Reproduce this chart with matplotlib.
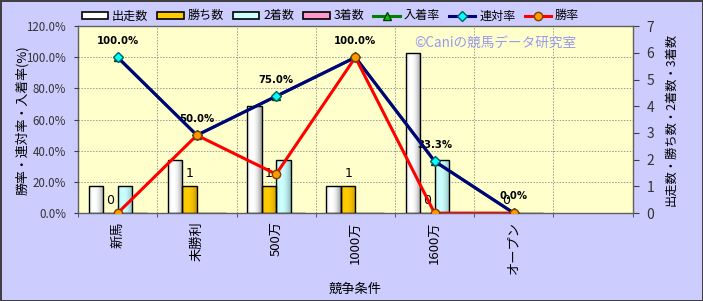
import numpy as np
import matplotlib
matplotlib.use('Agg')
import matplotlib.pyplot as plt
from matplotlib.ticker import FixedLocator, FuncFormatter

plt.rcParams['font.family'] = ['Noto Sans CJK JP', 'DejaVu Sans']

categories = ['新馬', '未勝利', '500万', '1000万', '1600万', 'オープン']
runs = [1, 2, 4, 1, 6, 0]
wins = [0, 1, 1, 1, 0, 0]
seconds = [1, 0, 2, 0, 2, 0]
thirds = [0, 0, 0, 0, 0, 0]
place_rate = [100.0, 50.0, 75.0, 100.0, 33.3, 0.0]
top2_rate = [100.0, 50.0, 75.0, 100.0, 33.3, 0.0]
win_rate = [0.0, 50.0, 25.0, 100.0, 0.0, 0.0]

n_slots = 7  # chart leaves one empty category slot on the right
BG = '#CCCCFF'
PLOT_BG = '#FFFFCC'
TXT = '#333333'


def shade_bars(ax, bars, light, dark):
    # cylinder-like horizontal gradient, clipped to each bar
    t = np.linspace(0, 1, 40)
    g = np.clip(1 - ((t - 0.35) / 0.65) ** 2, 0, 1)
    lo = np.array(matplotlib.colors.to_rgb(dark))
    hi = np.array(matplotlib.colors.to_rgb(light))
    img = (lo[None, :] + (hi - lo)[None, :] * g[:, None])[None, :, :]
    for b in bars:
        if b.get_height() <= 0:
            continue
        x, y = b.get_x(), b.get_y()
        im = ax.imshow(img, extent=[x, x + b.get_width(), y, y + b.get_height()],
                       aspect='auto', zorder=2, interpolation='bilinear')
        im.set_clip_path(b)


fig = plt.figure(figsize=(7.03, 3.01), dpi=100, facecolor=BG)
fig.patch.set_edgecolor('#404040')
fig.patch.set_linewidth(2)

ax2 = fig.add_axes([0.111, 0.292, 0.789, 0.621])  # counts (bars), right scale
ax = ax2.twinx()                                    # rates (lines), left scale
ax.set_zorder(ax2.get_zorder() + 1)
ax.patch.set_visible(False)
ax2.set_facecolor(PLOT_BG)

x = np.arange(len(categories))
w = 0.183
series = [
    (runs, '出走数', '#FFFFFF', '#999999'),
    (wins, '勝ち数', '#FFCC00', '#C89600'),
    (seconds, '2着数', '#CCFFFF', '#88B8B8'),
    (thirds, '3着数', '#FF99CC', '#C06090'),
]
handles = []
for i, (vals, name, light, dark) in enumerate(series):
    bars = ax2.bar(x + (i - 1.5) * w, vals, w, facecolor='none',
                   edgecolor='black', linewidth=1, zorder=3)
    shade_bars(ax2, bars, light, dark)
    handles.append(matplotlib.patches.Patch(facecolor=light, edgecolor='black',
                                            linewidth=1.2, label=name))

# count labels above the 勝ち数 bars
for xi, v in zip(x, wins):
    ax2.annotate(str(v), (xi - 0.5 * w, v), xytext=(0, 9), textcoords='offset points',
                 ha='center', va='center', fontsize=9, color='black',
                 family=['DejaVu Sans'])

ax2.set_xlim(-0.5, n_slots - 0.5)
ax2.set_ylim(0, 7)
ax2.yaxis.tick_right()
ax2.set_yticks(range(0, 8))
ax2.yaxis.set_minor_locator(FixedLocator(np.linspace(0, 7, 7)))
ax2.grid(axis='y', which='minor', color='#999999', linestyle=(0, (1.5, 1.5)), linewidth=0.7)
ax2.set_xticks(x)
ax2.set_xticklabels(categories, rotation=90, fontsize=9.5, color='black')
ax2.xaxis.set_minor_locator(FixedLocator(np.arange(n_slots + 1) - 0.5))
ax2.grid(axis='x', which='minor', color='#999999', linestyle=(0, (1.5, 1.5)), linewidth=0.7)
ax2.tick_params(axis='x', which='major', length=0, pad=6)
ax2.tick_params(axis='x', which='minor', length=3, color='#404040')
ax2.tick_params(axis='y', which='major', length=4, color='#404040', labelsize=10,
                labelcolor=TXT, pad=6)
ax2.tick_params(axis='y', which='minor', length=0)
ax2.set_axisbelow(True)
ax2.set_xlabel('競争条件', fontsize=9.5, labelpad=6)
ax2.set_ylabel('出走数・勝ち数・2着数・3着数', fontsize=8.8, rotation=90)
ax2.yaxis.set_label_coords(1.081, 0.5)
for s in ax2.spines.values():
    s.set_color('#606060')
    s.set_linewidth(1)

# rate lines on the left scale
l1, = ax.plot(x, place_rate, color='#008000', linewidth=2.2, marker='^',
              markersize=6, markerfacecolor='#00CC00', markeredgecolor='#004000',
              label='入着率', zorder=4)
l2, = ax.plot(x, top2_rate, color='#000080', linewidth=2.2, marker='D',
              markersize=5, markerfacecolor='#00FFFF', markeredgecolor='#006060',
              label='連対率', zorder=5)
l3, = ax.plot(x, win_rate, color='#FF0000', linewidth=2.2, marker='o',
              markersize=6, markerfacecolor='#FF9900', markeredgecolor='#804000',
              label='勝率', zorder=6)
for xi, v in zip(x, top2_rate):
    ax.annotate(f'{v:.1f}%', (xi, v), xytext=(0, 12), textcoords='offset points',
                ha='center', va='center', fontsize=7.3, fontweight='bold',
                family=['DejaVu Sans'], color='black')

ax.set_ylim(0, 120)
ax.yaxis.tick_left()
ax.set_yticks(np.arange(0, 121, 20))
ax.yaxis.set_major_formatter(FuncFormatter(lambda v, p: f'{v:.1f}%'))
ax.tick_params(axis='y', length=3, color='#404040', labelsize=8.3, labelcolor=TXT, pad=5.5)
ax.set_ylabel('勝率・連対率・入着率(%)', fontsize=9.3)
ax.yaxis.set_label_coords(-0.113, 0.5)
for s in ax.spines.values():
    s.set_visible(False)

ax.text(0.607, 0.909, '©Caniの競馬データ研究室', transform=ax.transAxes,
        fontsize=9.8, color='#9999F0', ha='left', va='center', zorder=1)

fig.legend(handles + [l1, l2, l3], [h.get_label() for h in handles] + ['入着率', '連対率', '勝率'],
           loc='center left', bbox_to_anchor=(0.116, 0.947), ncol=7, frameon=False,
           fontsize=8.7, handlelength=2.2, handleheight=0.5, handletextpad=0.3,
           columnspacing=0.75, borderpad=0, borderaxespad=0)

fig.savefig('out.png', dpi=100, facecolor=BG, edgecolor='#404040')
